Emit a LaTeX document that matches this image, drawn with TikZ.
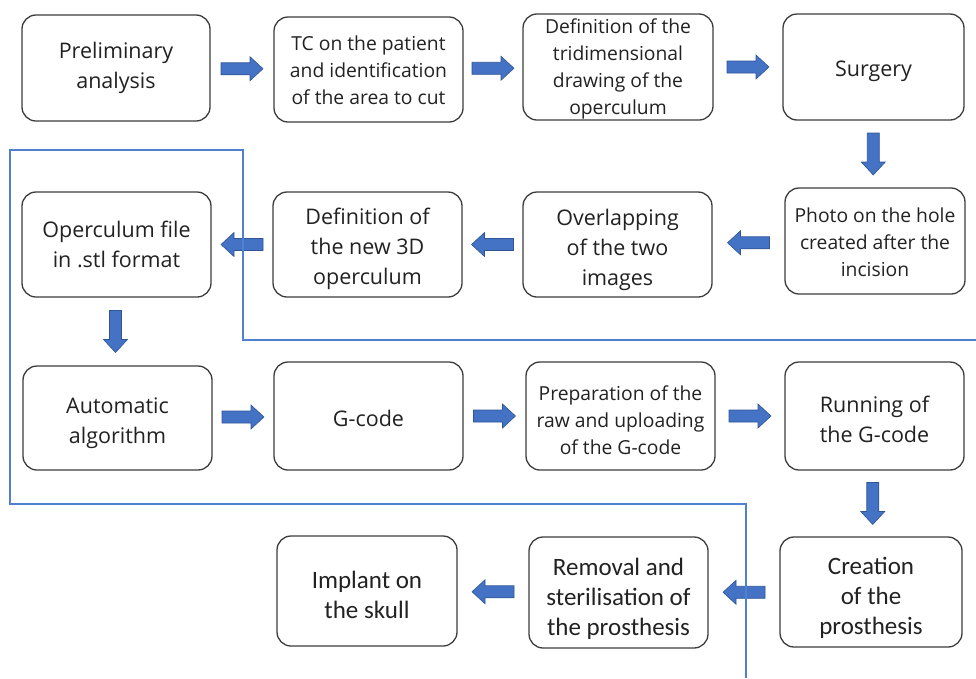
\documentclass[tikz,border=0pt]{standalone}
\usepackage{fontspec}
\setmainfont{Open Sans}
\newfontfamily\narrowfont{Carlito}
\usetikzlibrary{calc}
\definecolor{boxline}{HTML}{3C3C3C}
\definecolor{textgray}{HTML}{222222}
\definecolor{arrowfill}{HTML}{4472C4}
\definecolor{arrowline}{HTML}{2F5597}
\definecolor{routeblue}{HTML}{4F81D0}
\tikzset{
  stepbox/.style={draw=boxline, line width=1.3pt, rounded corners=14pt, fill=white, inner sep=0pt},
  steptext/.style={align=center, inner sep=0pt, text=textgray},
  bigtext/.style={steptext, font=\fontsize{21.5}{30}\selectfont},
  smalltext/.style={steptext, font=\fontsize{19.3}{27}\selectfont},
  narrowtext/.style={steptext, font=\narrowfont\fontsize{25}{30}\selectfont},
  fatarrow/.style={fill=arrowfill, draw=arrowline, line width=0.6pt},
  route/.style={draw=routeblue, line width=1.2pt},
}
% block arrow centred at #1, pointing at angle #2
\newcommand\blockarrow[2]{%
  \draw[fatarrow, shift={#1}, rotate=#2]
    (-21,-6) -- (8,-6) -- (8,-12) -- (21,0) -- (8,12) -- (8,6) -- (-21,6) -- cycle;}
\begin{document}
\begin{tikzpicture}[x=1pt,y=-1pt]
\useasboundingbox (0,0) rectangle (976,678);

% first row
\node[stepbox, minimum width=188pt, minimum height=106pt,
  label={[bigtext]center:Preliminary\\analysis}] (prelim) at (116,68) {};
\node[stepbox, minimum width=189pt, minimum height=105pt,
  label={[smalltext, yshift=-1pt]center:TC on the patient\\and identification\\of the area to cut}] (tc) at (368.5,69.5) {};
\node[stepbox, minimum width=190pt, minimum height=106pt,
  label={[smalltext, yshift=-2pt]center:Definition of the\\tridimensional\\drawing of the\\operculum}] (draw3d) at (618,67) {};
\node[stepbox, minimum width=181pt, minimum height=106pt,
  label={[bigtext, yshift=-4pt]center:Surgery}] (surgery) at (873.5,67) {};

% second row
\node[stepbox, minimum width=189pt, minimum height=105pt,
  label={[bigtext]center:Operculum file\\in .stl format}] (stl) at (116.5,244.5) {};
\node[stepbox, minimum width=189pt, minimum height=105pt,
  label={[bigtext, yshift=-4pt]center:Definition of\\the new 3D\\operculum}] (new3d) at (367.5,244.5) {};
\node[stepbox, minimum width=189pt, minimum height=105pt,
  label={[bigtext, yshift=-5pt]center:Overlapping\\of the two\\images}] (overlap) at (617.5,244.5) {};
\node[stepbox, minimum width=180pt, minimum height=106pt,
  label={[smalltext, yshift=-1pt]center:Photo on the hole\\created after the\\incision}] (photo) at (875,241) {};

% third row
\node[stepbox, minimum width=189pt, minimum height=104pt,
  label={[bigtext, yshift=-5pt]center:Automatic\\algorithm}] (algo) at (117.5,418) {};
\node[stepbox, minimum width=189pt, minimum height=108pt,
  label={[bigtext, yshift=-2pt]center:G-code}] (gcode) at (368.5,416) {};
\node[stepbox, minimum width=189pt, minimum height=108pt,
  label={[smalltext, yshift=-4pt]center:Preparation of the\\raw and uploading\\of the G-code}] (prep) at (620.5,416) {};
\node[stepbox, minimum width=179pt, minimum height=108pt,
  label={[bigtext, yshift=-3pt]center:Running of\\the G-code}] (run) at (874.5,416) {};

% fourth row
\node[stepbox, minimum width=180pt, minimum height=110pt,
  label={[narrowtext, yshift=-4pt]center:Implant on\\the skull}] (implant) at (367,591) {};
\node[stepbox, minimum width=179pt, minimum height=111pt,
  label={[narrowtext, yshift=-6pt]center:Removal and\\sterilisation of\\the prosthesis}] (removal) at (618.5,592.5) {};
\node[stepbox, minimum width=182pt, minimum height=110pt,
  label={[narrowtext, yshift=-6pt]center:Creation\\of the\\prosthesis}] (creation) at (871,592) {};

% block arrows between the steps
\blockarrow{($(prelim.east)!0.5!(tc.west)$)}{0}
\blockarrow{($(tc.east)!0.5!(draw3d.west)$)}{0}
\blockarrow{($(draw3d.east)!0.5!(surgery.west)$)}{0}
\blockarrow{($(surgery.south)!0.5!(photo.north)+(-1,0)$)}{-90}
\blockarrow{($(photo.west)!0.5!(overlap.east)$)}{180}
\blockarrow{($(overlap.west)!0.5!(new3d.east)$)}{180}
\blockarrow{($(new3d.west)!0.5!(stl.east)$)}{180}
\blockarrow{($(stl.south)!0.5!(algo.north)+(-1.5,0)$)}{-90}
\blockarrow{($(algo.east)!0.5!(gcode.west)$)}{0}
\blockarrow{($(gcode.east)!0.5!(prep.west)$)}{0}
\blockarrow{($(prep.east)!0.5!(run.west)$)}{0}
\blockarrow{($(run.south)!0.5!(creation.north)$)}{-90}
\blockarrow{($(creation.west)!0.5!(removal.east)$)}{180}
\blockarrow{($(removal.west)!0.5!(implant.east)$)}{180}

% thin blue outline around the central part of the flow
\coordinate (r1) at (976,340);
\coordinate (r2) at (243,340);
\coordinate (r3) at (243,150);
\coordinate (r4) at (10,150);
\coordinate (r5) at (10,504);
\coordinate (r6) at (746,504);
\coordinate (r7) at (746,678);
\draw[route] (r1) -- (r2) -- (r3) -- (r4) -- (r5) -- (r6) -- (r7);
\end{tikzpicture}
\end{document}
